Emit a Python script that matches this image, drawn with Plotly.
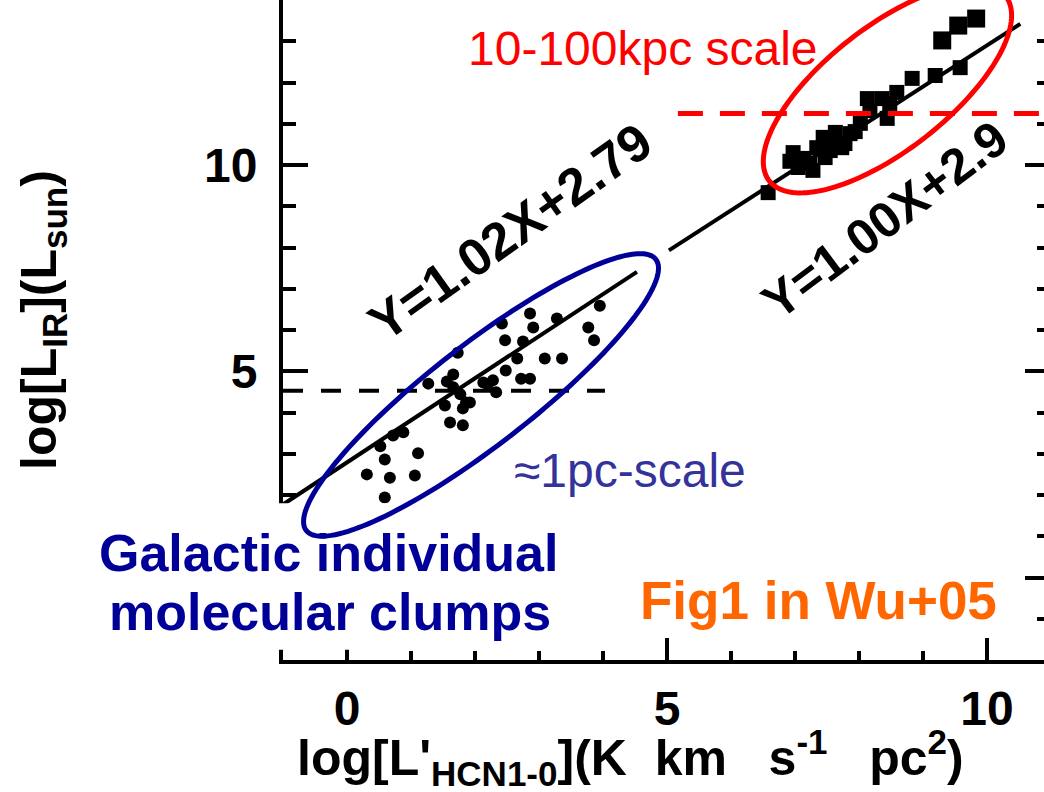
import numpy as np
import plotly.graph_objects as go

# ---- data -----------------------------------------------------------------
# Galactic dense clumps (filled circles)
clump_x = [1.73, 2.42, 2.86, 2.91, 2.47, 3.28, 3.95, 3.77, 3.86, 2.75, 2.66, 3.09, 3.36,
           2.48, 2.72, 2.86, 2.28, 2.20, 2.33, 1.66, 1.56, 1.27, 1.66, 1.77, 1.92, 1.53,
           1.81, 1.61, 1.81, 0.88, 0.72, 0.52, 1.11, 0.59, 0.31, 0.67, 1.06, 0.59, 1.86, 2.13]
clump_y = [5.45, 6.16, 6.40, 6.06, 5.75, 6.28, 6.59, 6.06, 5.75, 5.72, 5.31, 5.31, 5.31,
           5.02, 4.82, 4.82, 4.78, 4.68, 4.49, 4.92, 4.75, 4.70, 4.61, 4.44, 4.24, 4.17,
           4.10, 3.76, 3.69, 3.52, 3.44, 3.18, 3.01, 2.86, 2.50, 2.42, 2.47, 1.94, 4.24, 4.73]

# galaxies (filled squares)
gal_x = [9.58, 9.19, 8.83, 8.59, 8.36, 8.13, 8.48, 8.44, 8.17, 8.02, 7.86, 7.63, 7.44, 7.58,
         7.34, 7.73, 7.47, 7.23, 6.97, 6.92, 7.05, 7.28, 7.55, 7.78, 7.94, 6.58, 7.14]
gal_y = [12.36, 12.17, 12.10, 11.76, 11.61, 11.61, 11.49, 11.13, 11.32, 11.01, 10.76, 10.79,
         10.67, 10.52, 10.42, 10.42, 10.18, 10.04, 10.30, 10.09, 9.94, 9.87, 10.35, 10.52,
         10.81, 9.33, 10.16]
# most luminous galaxies
ulirg_x = [9.83, 9.55, 9.30]
ulirg_y = [13.55, 13.38, 13.02]

# linear fits  Y = slope * X + intercept
clump_fit = {"slope": 1.02, "intercept": 2.79, "x": [-1.0, 4.53]}
gal_fit = {"slope": 1.00, "intercept": 2.9, "x": [5.03, 10.52]}

# luminosity thresholds
clump_cut = {"y": 4.53, "x": [-1.0, 4.03]}
gal_cut = {"y": 11.25, "x": [5.17, 10.89]}

X_RANGE = [-1.0, 10.89]
Y_RANGE = [-2.0, 14.0]

# ---- geometry of the figure ---------------------------------------------
W, H = 1044, 792
M_L, M_R, M_T, M_B = 283, 0, 0, 132
PLOT_W = W - M_L - M_R
PLOT_H = H - M_T - M_B
PX_X = PLOT_W / (X_RANGE[1] - X_RANGE[0])
PX_Y = PLOT_H / (Y_RANGE[1] - Y_RANGE[0])

FONT = "Arial, 'Liberation Sans', sans-serif"

# outlines around the two groups: centre (data), semi-axes (px), tilt (deg)
clump_ring = dict(cx=2.094, cy=4.426, a=221.2, b=50.3, ang=37.8, color="#000099")
gal_ring = dict(cx=8.444, cy=11.854, a=150.0, b=61.7, ang=38.0, color="#ff0000")


def paper_x(v):
    return (v - X_RANGE[0]) / (X_RANGE[1] - X_RANGE[0])


def paper_y(v):
    return (v - Y_RANGE[0]) / (Y_RANGE[1] - Y_RANGE[0])


def ellipse_path(cx, cy, a, b, ang, n=160):
    t = np.linspace(0, 2 * np.pi, n, endpoint=False)
    th = np.radians(ang)
    dx = a * np.cos(t) * np.cos(th) - b * np.sin(t) * np.sin(th)
    dy = a * np.cos(t) * np.sin(th) + b * np.sin(t) * np.cos(th)
    xs = cx + dx / PX_X
    ys = cy + dy / PX_Y
    return "M " + " L ".join(f"{x:.4f},{y:.4f}" for x, y in zip(xs, ys)) + " Z"


fig = go.Figure()

# fits
for fit in (clump_fit, gal_fit):
    xs = np.array(fit["x"])
    fig.add_trace(go.Scatter(x=xs, y=fit["slope"] * xs + fit["intercept"], mode="lines",
                             line=dict(color="black", width=4), hoverinfo="skip"))

# thresholds
fig.add_trace(go.Scatter(x=clump_cut["x"], y=[clump_cut["y"]] * 2, mode="lines",
                         line=dict(color="black", width=4, dash="20px,18px")))
fig.add_trace(go.Scatter(x=gal_cut["x"], y=[gal_cut["y"]] * 2, mode="lines", yaxis="y2",
                         line=dict(color="#ff0000", width=5, dash="25px,17px")))

# points
fig.add_trace(go.Scatter(x=clump_x, y=clump_y, mode="markers",
                         marker=dict(symbol="circle", size=12, color="black")))
fig.add_trace(go.Scatter(x=gal_x, y=gal_y, mode="markers",
                         marker=dict(symbol="square", size=15, color="black")))
fig.add_trace(go.Scatter(x=ulirg_x, y=ulirg_y, mode="markers",
                         marker=dict(symbol="square", size=18, color="black")))

shapes = [
    # blank panel behind the caption
    dict(type="rect", xref="paper", yref="paper", x0=-0.3, x1=paper_x(3.4),
         y0=paper_y(-1.75), y1=paper_y(1.8), fillcolor="white", line=dict(width=0),
         layer="above"),
]
for ring in (clump_ring, gal_ring):
    shapes.append(dict(type="path", xref="x", yref="y",
                       path=ellipse_path(ring["cx"], ring["cy"], ring["a"], ring["b"], ring["ang"]),
                       line=dict(color=ring["color"], width=5), layer="above"))

bold = dict(family=FONT, color="black", weight="bold")
SP = "\u00a0"
annotations = [
    dict(x=630, y=757,
         text=(f"log[L'<sub>HCN1-0</sub>](K{SP}{SP}km{SP}{SP}{SP}s<sup>-1</sup>"
               f"{SP}{SP}{SP}pc<sup>2</sup>)"),
         font=dict(size=50, **bold)),
    dict(x=42, y=320, text="log[L<sub>IR</sub>](L<sub>sun</sub>)", textangle=-90,
         font=dict(size=50, **bold)),
    dict(x=510, y=232, text="Y=1.02X+2.79", textangle=-35.5, font=dict(size=52, **bold)),
    dict(x=885, y=220, text="Y=1.00X+2.9", textangle=-37, font=dict(size=50, **bold)),
    dict(x=643, y=48, text="10-100kpc scale", font=dict(family=FONT, size=48, color="#ff0000")),
    dict(x=630, y=470, text="≈1pc-scale", font=dict(family=FONT, size=48, color="#333399")),
    dict(x=328, y=553, text="Galactic individual",
         font=dict(family=FONT, size=52, color="#000099", weight="bold")),
    dict(x=330, y=612, text="molecular clumps",
         font=dict(family=FONT, size=52, color="#000099", weight="bold")),
    dict(x=818, y=600, text="Fig1 in Wu+05",
         font=dict(family=FONT, size=53, color="#ff6600", weight="bold")),
]
for a in annotations:
    # positions above are given in figure pixels
    a["x"] = (a["x"] - M_L) / PLOT_W
    a["y"] = 1 - (a["y"] - M_T) / PLOT_H
    a.update(xref="paper", yref="paper", xanchor="center", yanchor="middle", showarrow=False)

tickfont = dict(size=48, **bold)
fig.update_layout(
    width=W, height=H, margin=dict(l=M_L, r=M_R, t=M_T, b=M_B, pad=0),
    paper_bgcolor="white", plot_bgcolor="white", showlegend=False,
    shapes=shapes, annotations=annotations,
    xaxis=dict(range=X_RANGE, showgrid=False, zeroline=False, showline=True,
               linecolor="black", linewidth=4, ticks="inside", tickvals=[0, 5, 10],
               ticklen=22, tickwidth=4, tickcolor="black", tickfont=tickfont,
               ticklabelstandoff=3,
               minor=dict(ticks="inside", dtick=1, tick0=0, ticklen=9, tickwidth=4,
                          tickcolor="black")),
    yaxis=dict(range=Y_RANGE, showgrid=False, zeroline=False, showline=True,
               linecolor="black", linewidth=4, ticks="inside", tickvals=[5, 10],
               ticklen=25, tickwidth=4, tickcolor="black", tickfont=tickfont,
               ticklabelstandoff=12,
               minor=dict(ticks="inside", dtick=1, tick0=0, ticklen=13, tickwidth=4,
                          tickcolor="black")),
    yaxis2=dict(range=Y_RANGE, overlaying="y", side="right", showgrid=False, zeroline=False,
                showline=False, ticks="inside", tickvals=[0, 5, 10], ticklen=19, tickwidth=4,
                tickcolor="black", showticklabels=False,
                minor=dict(ticks="inside", dtick=1, tick0=0, ticklen=7, tickwidth=4,
                           tickcolor="black")),
)

fig.write_html("out.html")
